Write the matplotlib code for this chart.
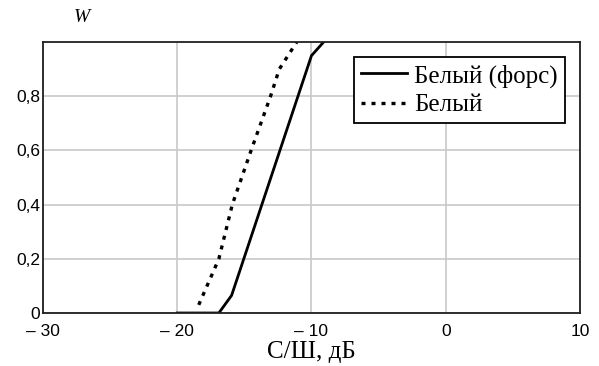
import matplotlib.pyplot as plt
import matplotlib.ticker as mticker

# Белый (форс) - solid
snr_fors = [-20.0, -16.9, -15.95, -10.0, -9.1]
w_fors = [0.0, 0.0, 0.065, 0.95, 1.0]

# Белый - dashed
snr_white = [-18.4, -16.9, -15.9, -14.5, -13.05, -12.4, -11.1]
w_white = [0.03, 0.2, 0.4, 0.6, 0.8, 0.9, 1.0]

x_ticks = [-30, -20, -10, 0, 10]
y_ticks = [0, 0.2, 0.4, 0.6, 0.8]

plt.rcParams['font.family'] = ['Liberation Serif', 'DejaVu Serif']

fig = plt.figure(figsize=(5.99, 3.66), dpi=100)
ax = fig.add_axes([0.0718, 0.1448, 0.8964, 0.7402])

ax.plot(snr_fors, w_fors, color='black', linewidth=2.0, label='Белый (форс)')
ax.plot(snr_white, w_white, color='black', linewidth=2.4,
        linestyle=(0, (1.2, 1.8)), label='Белый')

ax.set_xlim(-30, 10)
ax.set_ylim(0, 1)
ax.set_xticks(x_ticks)
ax.set_yticks(y_ticks)


def fmt_x(v, pos):
    return f"\u2013 {abs(int(v))}" if v < 0 else f"{int(v)}"


def fmt_y(v, pos):
    return "0" if v == 0 else f"{v:.1f}".replace('.', ',')


ax.xaxis.set_major_formatter(mticker.FuncFormatter(fmt_x))
ax.yaxis.set_major_formatter(mticker.FuncFormatter(fmt_y))
ax.tick_params(length=0, labelsize=12.5, pad=2)
ax.tick_params(axis='x', pad=8)
for lbl in ax.get_xticklabels() + ax.get_yticklabels():
    lbl.set_family(['Liberation Sans', 'DejaVu Sans'])
ax.grid(True, color='#c8c8c8', linewidth=1.2)
ax.set_axisbelow(True)
for s in ax.spines.values():
    s.set_linewidth(1.3)
    s.set_color('#202020')

ax.set_xlabel('С/Ш, дБ', fontsize=18, labelpad=1)
fig.text(0.137, 0.952, 'W', fontsize=14, style='italic', ha='center', va='center')

leg = ax.legend(loc='upper right', bbox_to_anchor=(0.972, 0.9446), fontsize=18,
                frameon=True, fancybox=False, edgecolor='black', framealpha=1,
                handlelength=1.85, handletextpad=0.3, borderpad=0.28,
                labelspacing=0.25, borderaxespad=0)
leg.get_frame().set_linewidth(1.3)

fig.savefig('out.png', dpi=100)
